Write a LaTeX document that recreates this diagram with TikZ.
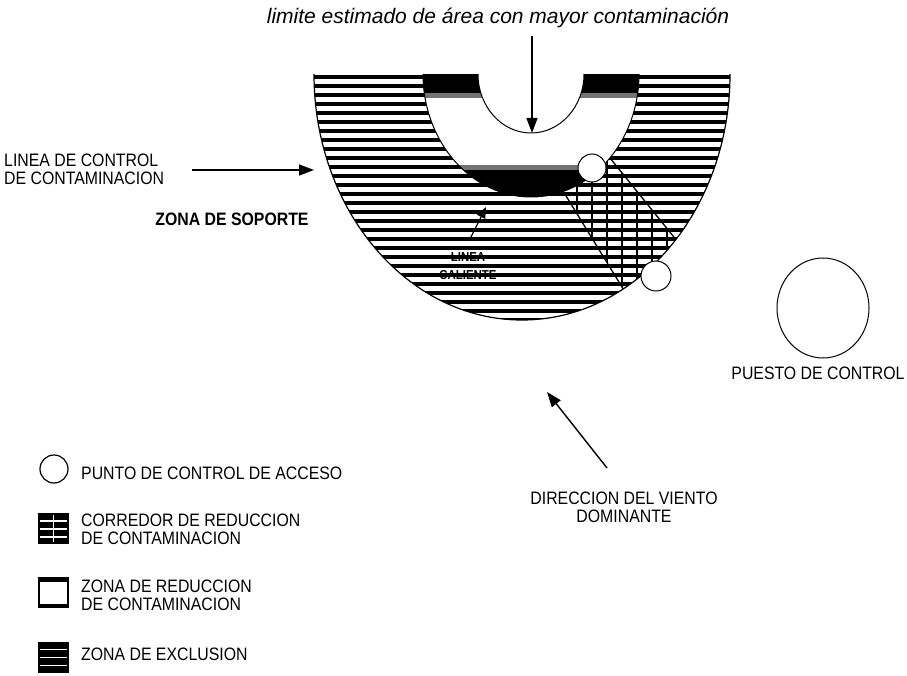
\documentclass[tikz,border=0pt]{standalone}
\usepackage{fontspec}
\setmainfont{Liberation Sans}
\newfontfamily\nf[FakeStretch=0.88]{Liberation Sans}
\usetikzlibrary{arrows.meta,shapes.geometric}
\begin{document}
\begin{tikzpicture}[x=1pt,y=-1pt,
  lbl/.style={font=\nf\fontsize{18}{18}\selectfont, inner sep=0pt, align=left},
  arr/.style={line width=1.4pt, -{Triangle[length=15pt,width=11pt]}},
  hatch/.style={line width=4pt},
  vline/.style={line width=1.6pt},
  spot/.style={circle, draw, line width=1pt, fill=white, minimum size=28pt, inner sep=0pt}]
\useasboundingbox (0,0) rectangle (907,676);

\def\outer{(314,74) arc[start angle=180, end angle=0, x radius=208, y radius=246] -- cycle}
% exclusion zone hatching
\begin{scope}
  \clip \outer;
  \foreach \y in {77,86,...,330} \draw[hatch] (300,\y) -- (750,\y);
  \begin{scope}
    \clip (563,191) -- (610,158) -- (700,268) -- (633,305) -- cycle;
    \foreach \x in {577,592,...,700} \draw[vline] (\x,140) -- (\x,320);
  \end{scope}
  % corridor edges
  \coordinate (c1) at (563,191);
  \coordinate (c2) at (630,300);
  \coordinate (c3) at (610,158);
  \coordinate (c4) at (690,257);
  \draw[line width=1.3pt] (c1) -- (c2);
  \draw[line width=1.3pt] (c3) -- (c4);
\end{scope}

% reduction zone (U band)
\fill[white] (423,74) arc[start angle=180, end angle=0, x radius=108, y radius=123] -- cycle;
\begin{scope}
  \clip (423,74) arc[start angle=180, end angle=0, x radius=108, y radius=123] -- cycle;
  \fill[black] (400,74) rectangle (660,93);
  \fill[black!55] (400,93) rectangle (660,98);
  \fill[black!55] (400,165) rectangle (660,170);
  \fill[black] (400,170) rectangle (660,200);
\end{scope}
\filldraw[fill=white, line width=1pt] (478,74) arc[start angle=180, end angle=0, x radius=53, y radius=59];
\draw[line width=1pt] (423,74) arc[start angle=180, end angle=0, x radius=108, y radius=123];
\draw[line width=1.2pt] (314,74) arc[start angle=180, end angle=0, x radius=208, y radius=246];

\node[spot] (acc1) at (592,168) {};
\node[spot, minimum size=30pt] (acc2) at (656,276) {};

% labels
\node[font=\itshape\fontsize{21}{23}\selectfont, inner sep=0pt] (title) at (498,18) {limite estimado de área con mayor contaminación};
\coordinate (hole) at (532,133);
\draw[arr] (532,36) -- (hole);

\node[lbl, anchor=west] (lcc) at (4,169) {LINEA DE CONTROL\\DE CONTAMINACION};
\coordinate (edgeL) at (314,170);
\draw[arr] (192,170) -- (edgeL);

\node[font=\bfseries\nf\fontsize{18}{19}\selectfont, inner sep=0pt] (soporte) at (232,219) {ZONA DE SOPORTE};

\node[font=\bfseries\nf\fontsize{13}{14}\selectfont, inner sep=0pt, align=center] (caliente) at (468,266) {LINEA\\[4pt]CALIENTE};
\coordinate (band) at (486,207);
\draw[line width=1.3pt, -{Triangle[length=11pt,width=9pt]}] (470,239) -- (band);

\node[ellipse, draw, line width=1pt, minimum width=92pt, minimum height=100pt, inner sep=0pt] (puesto) at (823,308) {};
\node[lbl] (puestotxt) at (818,373) {PUESTO DE CONTROL};

\node[lbl, align=center] (viento) at (624,507) {DIRECCION DEL VIENTO\\DOMINANTE};
\draw[arr] (607,468) -- (547,392);

% legend
\node[circle, draw, line width=1.2pt, minimum size=28pt, inner sep=0pt] (lg1) at (54,469) {};
\node[lbl, anchor=west] (lt1) at (81,473) {PUNTO DE CONTROL DE ACCESO};

\fill[black] (38,513) rectangle (69,544);
\foreach \y in {521,529,537} \draw[white, line width=1.7pt] (40,\y) -- (67,\y);
\draw[white, line width=1.5pt] (53.5,515) -- (53.5,542);
\node[lbl, anchor=west] (lt2) at (81,529) {CORREDOR DE REDUCCION\\DE CONTAMINACION};

\draw[line width=2pt] (39,578) rectangle (68,607);
\fill[black] (38,577) rectangle (69,581.5);
\fill[black] (38,603.5) rectangle (69,608);
\node[lbl, anchor=west] (lt3) at (81,595) {ZONA DE REDUCCION\\DE CONTAMINACION};

\fill[black] (38,642) rectangle (69,673);
\foreach \y in {649.5,657.5,665.5} \draw[white, line width=1.9pt] (40,\y) -- (67,\y);
\node[lbl, anchor=west] (lt4) at (81,654) {ZONA DE EXCLUSION};
\end{tikzpicture}
\end{document}
